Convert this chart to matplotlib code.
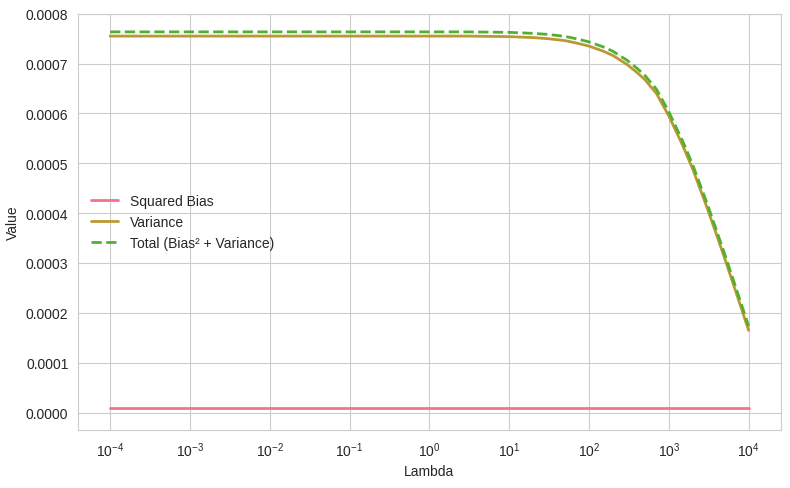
import matplotlib
matplotlib.use("Agg")
import matplotlib.pyplot as plt
import seaborn as sns

sns.set_style("whitegrid")
plt.rcParams['font.family'] = ['Arial', 'Liberation Sans', 'DejaVu Sans']

# values
lambdas = [1e-4, 1e-3, 1e-2, 1e-1, 1, 3, 10, 20, 30, 50, 70, 100, 150, 200,
           300, 400, 500, 700, 1000, 1500, 2000, 3000, 4000, 5000, 7000, 10000]
variance = [0.000755, 0.000755, 0.000755, 0.000755, 0.000755, 0.000755,
            0.000754, 0.000752, 0.000750, 0.000746, 0.000741, 0.000735,
            0.000725, 0.000716, 0.000698, 0.000682, 0.000668, 0.000640,
            0.000595, 0.000535, 0.000488, 0.000412, 0.000355, 0.000310,
            0.000240, 0.000165]
bias_sq = [0.0000085] * len(lambdas)
total = [b + v for b, v in zip(bias_sq, variance)]

colors = ["#f77189", "#bb9832", "#50b131"]

fig, ax = plt.subplots(figsize=(7.9, 4.89), dpi=100)
ax.plot(lambdas, bias_sq, color=colors[0], linewidth=2, label="Squared Bias")
ax.plot(lambdas, variance, color=colors[1], linewidth=2, label="Variance")
ax.plot(lambdas, total, color=colors[2], linewidth=2, linestyle="--",
        label="Total (Bias² + Variance)")
ax.set_xscale("log")
ax.set_ylim(-0.0000355, 0.0008)
ax.set_yticks([i * 0.0001 for i in range(9)])
ax.set_yticklabels([f"{i * 0.0001:.4f}" for i in range(9)])
ax.set_xlabel("Lambda")
ax.set_ylabel("Value")
for s in ax.spines.values():
    s.set_color("#cccccc")
ax.legend(loc="center left", frameon=False)

plt.subplots_adjust(left=0.099, right=0.988, top=0.97, bottom=0.118)
plt.savefig("out.png", dpi=100)
